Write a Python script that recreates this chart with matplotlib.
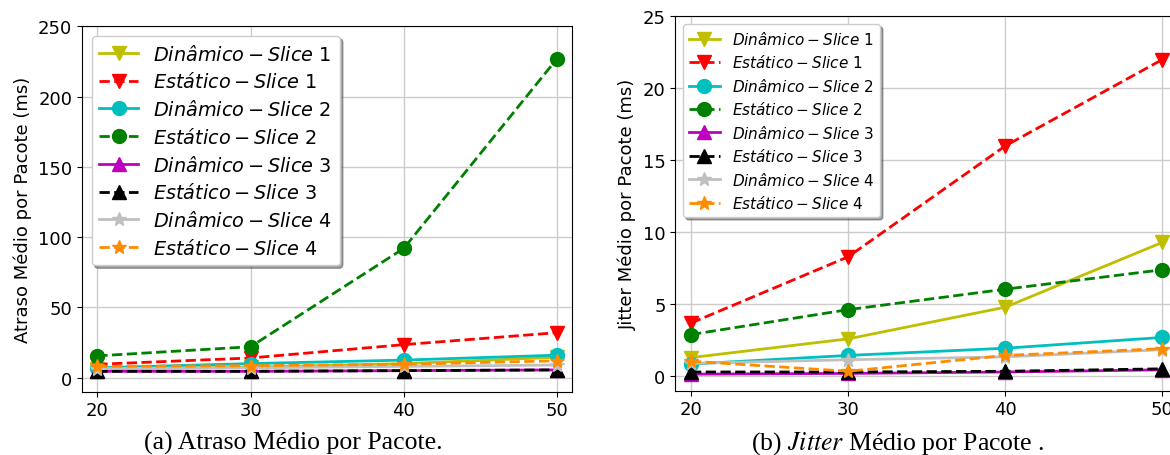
import numpy as np
import matplotlib
matplotlib.use('Agg')
import matplotlib.pyplot as plt

# carga (x) e valores
x = [20, 30, 40, 50]

labels = [r'$Dinâmico - Slice$ 1', r'$Estático - Slice$ 1',
          r'$Dinâmico - Slice$ 2', r'$Estático - Slice$ 2',
          r'$Dinâmico - Slice$ 3', r'$Estático - Slice$ 3',
          r'$Dinâmico - Slice$ 4', r'$Estático - Slice$ 4']

# atraso medio (ms)
atraso_din_s1 = [6, 7.5, 10, 14.5]
atraso_est_s1 = [9.5, 14, 23.5, 32]
atraso_din_s2 = [7, 10, 12.5, 16]
atraso_est_s2 = [15.5, 22, 92, 227]
atraso_din_s3 = [4.5, 4.5, 5, 5.5]
atraso_est_s3 = [4.5, 4.5, 5, 5.5]
atraso_din_s4 = [6.5, 7, 8, 9]
atraso_est_s4 = [8, 8.5, 9.5, 12]

# jitter medio (ms)
jitter_din_s1 = [1.3, 2.6, 4.8, 9.3]
jitter_est_s1 = [3.7, 8.3, 16, 22]
jitter_din_s2 = [0.85, 1.45, 1.95, 2.7]
jitter_est_s2 = [2.9, 4.63, 6.05, 7.4]
jitter_din_s3 = [0.15, 0.2, 0.3, 0.45]
jitter_est_s3 = [0.3, 0.3, 0.35, 0.52]
jitter_din_s4 = [0.9, 1.15, 1.35, 1.85]
jitter_est_s4 = [1.05, 0.35, 1.45, 1.92]

estilos = [('y', '-', 'v'), ('r', '--', 'v'),
           ('c', '-', 'o'), ('g', '--', 'o'),
           ('m', '-', '^'), ('k', '--', '^'),
           ('silver', '-', '*'), ('darkorange', '--', '*')]

fig = plt.figure(figsize=(11.7, 4.56), dpi=100)

def desenha(ax, series, ylabel, ylim, yticks, leg_fs, leg_sp):
    for (c, ls, mk), ys, lb in zip(estilos, series, labels):
        ax.plot(x, ys, color=c, linestyle=ls, marker=mk, markersize=10, lw=2, label=lb)
    ax.set_xlim(19, 51)
    ax.set_ylim(*ylim)
    ax.set_xticks(x)
    ax.set_yticks(yticks)
    ax.tick_params(labelsize=13)
    ax.set_ylabel(ylabel, fontsize=13)
    ax.grid(True, color='#cccccc', lw=1)
    ax.set_axisbelow(True)
    ax.legend(loc='upper left', shadow=True, fontsize=leg_fs, framealpha=1,
              labelspacing=leg_sp)

ax1 = fig.add_axes([0.0701, 0.1388, 0.4191, 0.8013])
desenha(ax1, [atraso_din_s1, atraso_est_s1, atraso_din_s2, atraso_est_s2,
              atraso_din_s3, atraso_est_s3, atraso_din_s4, atraso_est_s4],
        'Atraso Médio por Pacote (ms)', (-10, 250), [0, 50, 100, 150, 200, 250], 13.9, 0.4)

ax2 = fig.add_axes([0.5772, 0.141, 0.4297, 0.821])
desenha(ax2, [jitter_din_s1, jitter_est_s1, jitter_din_s2, jitter_est_s2,
              jitter_din_s3, jitter_est_s3, jitter_din_s4, jitter_est_s4],
        'Jitter Médio por Pacote (ms)', (-1, 25), [0, 5, 10, 15, 20, 25], 11, 0.42)

# legendas das subfiguras
fig.text(293 / 1170, 1 - 450 / 456, '(a) Atraso Médio por Pacote.', ha='center', va='baseline',
         family='Liberation Serif', fontsize=18.5)
fig.text(898 / 1170, 1 - 450 / 456, r'(b) $Jitter$ Médio por Pacote .', ha='center', va='baseline',
         family='Liberation Serif', math_fontfamily='stix', fontsize=18.5)

fig.savefig('out.png', dpi=100)
